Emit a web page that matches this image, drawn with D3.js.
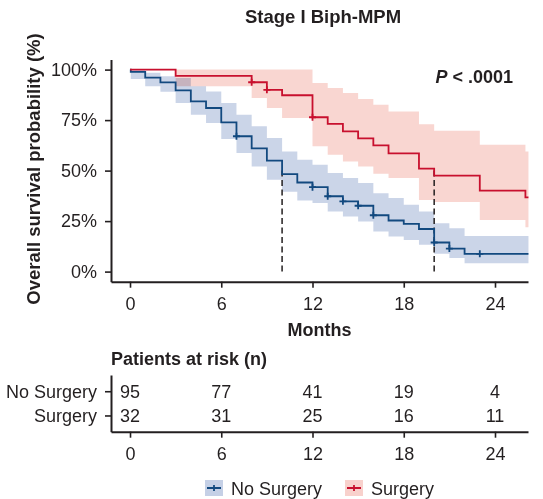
<!DOCTYPE html>
<html>
<head>
<meta charset="utf-8">
<script src="https://cdn.jsdelivr.net/npm/d3@7"></script>
<style>
  body { margin: 0; background: #fff; }
  #content { width: 543px; height: 499px; }
  text { font-family: "Liberation Sans", Arial, sans-serif; fill: #231f20; }
</style>
</head>
<body>
<div id="content"></div>
<script>
// Kaplan-Meier steps (time in months, survival as fraction)
var noSurgTimes = [0, 0.05, 1, 2, 3, 4, 5, 6, 7, 8, 9, 10, 11, 12, 13, 14, 15, 16, 17, 18, 19, 20, 21, 22];
var noSurgSurv  = [1, 0.989, 0.96, 0.937, 0.897, 0.843, 0.81, 0.739, 0.67, 0.61, 0.549, 0.483, 0.441, 0.418, 0.373, 0.348, 0.326, 0.279, 0.253, 0.236, 0.211, 0.144, 0.114, 0.088];
var noSurgLower = [1, 0.954, 0.917, 0.89, 0.835, 0.777, 0.736, 0.656, 0.587, 0.52, 0.455, 0.395, 0.352, 0.339, 0.298, 0.273, 0.248, 0.199, 0.174, 0.157, 0.133, 0.088, 0.067, 0.041];
var noSurgUpper = [1, 0.997, 0.984, 0.967, 0.959, 0.917, 0.892, 0.835, 0.777, 0.719, 0.661, 0.595, 0.554, 0.529, 0.488, 0.463, 0.438, 0.388, 0.364, 0.331, 0.298, 0.239, 0.214, 0.176];
var noSurgCensor = [7, 12, 13, 14, 15, 16, 20, 21, 23];

var surgTimes = [0, 3, 8, 9, 10, 12, 13, 14, 15, 16, 17, 19, 20, 23, 26];
var surgSurv  = [1, 0.969, 0.9375, 0.90, 0.873, 0.764, 0.731, 0.694, 0.66, 0.625, 0.585, 0.51, 0.475, 0.401, 0.367];
var surgLower = [1, 0.917, 0.86, 0.81, 0.76, 0.62, 0.579, 0.545, 0.52, 0.485, 0.463, 0.355, 0.345, 0.256, 0.22];
var surgUpper = [1, 1, 1, 1, 1, 0.934, 0.909, 0.884, 0.855, 0.826, 0.793, 0.73, 0.697, 0.628, 0.595];
var surgCensor = [8, 9, 12];

var endTime = 26.2;
var medianTimes = [10, 20];

var groups = ["No Surgery", "Surgery"];
var riskTimes = [0, 6, 12, 18, 24];
var riskNoSurg = [95, 77, 41, 19, 4];
var riskSurg = [32, 31, 25, 16, 11];
var yTicks = [0, 0.25, 0.5, 0.75, 1];

(function(d3) {
    var width = 543, height = 499;
    var lineCol = {"No Surgery": "#12497f", "Surgery": "#c8102e"};
    var bandCol = {"No Surgery": "#c5d0e6", "Surgery": "#f8d1cc"};
    var ink = "#231f20";
    var fs = 18;

    var svg = d3.select("#content").append("svg")
        .attr("viewBox", [0, 0, width, height])
        .attr("width", width).attr("height", height);

    var x = d3.scaleLinear().domain([-1.25, 26.17]).range([111, 528]);
    var y = d3.scaleLinear().domain([-0.05, 1.05]).range([281.7, 59.5]);

    function build(times, surv, lo, hi) {
        var pts = times.map(function(t, i) { return {t: t, s: surv[i], lo: lo[i], hi: hi[i]}; });
        var last = pts[pts.length - 1];
        pts.push({t: endTime, s: last.s, lo: last.lo, hi: last.hi});
        return pts;
    }
    var series = [
        {name: "No Surgery", pts: build(noSurgTimes, noSurgSurv, noSurgLower, noSurgUpper), times: noSurgTimes, surv: noSurgSurv, censor: noSurgCensor},
        {name: "Surgery", pts: build(surgTimes, surgSurv, surgLower, surgUpper), times: surgTimes, surv: surgSurv, censor: surgCensor}
    ];

    function survAt(s, t) {
        var v = s.surv[0];
        s.times.forEach(function(tt, i) { if (tt <= t) v = s.surv[i]; });
        return v;
    }

    // confidence bands
    var area = d3.area().curve(d3.curveStepAfter)
        .x(function(d) { return x(d.t); })
        .y0(function(d) { return y(d.lo); })
        .y1(function(d) { return y(d.hi); });
    series.forEach(function(s) {
        svg.append("path").datum(s.pts)
            .attr("fill", bandCol[s.name])
            .attr("fill-opacity", 0.9)
            .style("mix-blend-mode", "multiply")
            .attr("d", area);
    });

    // median lines
    medianTimes.forEach(function(t) {
        svg.append("line")
            .attr("x1", x(t)).attr("x2", x(t))
            .attr("y1", y(0.5)).attr("y2", y(0))
            .attr("stroke", ink).attr("stroke-width", 1.5)
            .attr("stroke-dasharray", "6,3.5");
    });

    // survival curves
    var line = d3.line().curve(d3.curveStepAfter)
        .x(function(d) { return x(d.t); })
        .y(function(d) { return y(d.s); });
    series.forEach(function(s) {
        svg.append("path").datum(s.pts)
            .attr("fill", "none")
            .attr("stroke", lineCol[s.name])
            .attr("stroke-width", 1.8)
            .attr("d", line);
        s.censor.forEach(function(t) {
            var cx = x(t), cy = y(survAt(s, t));
            svg.append("path")
                .attr("d", "M" + (cx - 3.5) + "," + cy + "H" + (cx + 3.5) + "M" + cx + "," + (cy - 3.5) + "V" + (cy + 3.5))
                .attr("stroke", lineCol[s.name]).attr("stroke-width", 1.8);
        });
    });

    // axes
    function styleAxis(g) {
        g.select(".domain").attr("stroke", ink).attr("stroke-width", 2);
        g.selectAll(".tick line").attr("stroke", ink).attr("stroke-width", 1.6);
        g.selectAll(".tick text").attr("font-size", fs).style("fill", ink);
    }
    svg.append("g")
        .attr("transform", "translate(0," + y.range()[0] + ")")
        .call(d3.axisBottom(x).tickValues(riskTimes).tickSize(6).tickSizeOuter(0).tickPadding(10))
        .call(styleAxis);
    svg.append("g")
        .attr("transform", "translate(" + x.range()[0] + ",0)")
        .call(d3.axisLeft(y).tickValues(yTicks).tickSize(6).tickSizeOuter(0).tickPadding(8)
            .tickFormat(function(d) { return Math.round(d * 100) + "%"; }))
        .call(styleAxis);

    svg.append("text").attr("x", 323).attr("y", 23)
        .attr("text-anchor", "middle").attr("font-size", 18.5).attr("font-weight", "bold")
        .text("Stage I Biph-MPM");
    svg.append("text").attr("x", 319.5).attr("y", 336)
        .attr("text-anchor", "middle").attr("font-size", fs).attr("font-weight", "bold")
        .text("Months");
    svg.append("text")
        .attr("transform", "translate(40,169) rotate(-90)")
        .attr("text-anchor", "middle").attr("font-size", 18.5).attr("font-weight", "bold")
        .text("Overall survival probability (%)");
    var p = svg.append("text").attr("x", 513).attr("y", 83)
        .attr("text-anchor", "end").attr("font-size", fs).attr("font-weight", "bold");
    p.append("tspan").attr("font-style", "italic").text("P");
    p.append("tspan").text(" < .0001");

    // risk table
    svg.append("text").attr("x", 111).attr("y", 364.5)
        .attr("font-size", fs).attr("font-weight", "bold")
        .text("Patients at risk (n)");
    var row = d3.scalePoint().domain(groups).range([375, 431.7]).padding(0.67);
    svg.append("g")
        .attr("transform", "translate(" + x.range()[0] + ",0)")
        .call(d3.axisLeft(row).tickSize(6).tickSizeOuter(0).tickPadding(8))
        .call(styleAxis);
    svg.append("g")
        .attr("transform", "translate(0,431.7)")
        .call(d3.axisBottom(x).tickValues(riskTimes).tickSize(6).tickSizeOuter(0).tickPadding(9.5))
        .call(styleAxis);
    [riskNoSurg, riskSurg].forEach(function(vals, gi) {
        svg.append("g").selectAll("text").data(vals).join("text")
            .attr("x", function(d, i) { return x(riskTimes[i]); })
            .attr("y", row(groups[gi]) + 6.5)
            .attr("text-anchor", "middle").attr("font-size", fs)
            .text(function(d) { return d; });
    });

    // legend
    var legX = [205, 345];
    groups.forEach(function(name, i) {
        var g = svg.append("g").attr("transform", "translate(" + legX[i] + ",480)");
        g.append("rect").attr("width", 18).attr("height", 16).attr("fill", bandCol[name]);
        g.append("path").attr("d", "M2,8H16M9,5V11")
            .attr("stroke", lineCol[name]).attr("stroke-width", 1.8);
        g.append("text").attr("x", 26).attr("y", 14.5).attr("font-size", fs).text(name);
    });
})(d3);
</script>
</body>
</html>
